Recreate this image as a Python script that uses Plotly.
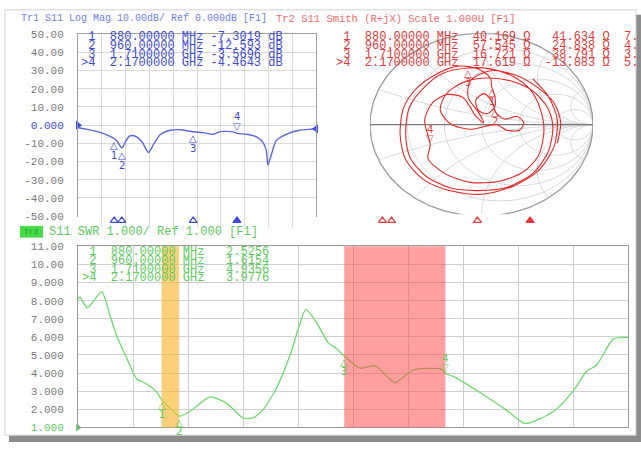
import numpy as np
import plotly.graph_objects as go

W, H = 641, 449

# ------------------------------------------------------------------ data
logmag_freq_mhz = [500, 597, 743, 847, 880, 920, 960, 1000, 1040, 1090, 1170, 1240, 1300,
                   1368, 1472, 1576, 1710, 1818, 1924, 1992, 2130, 2170, 2270, 2374, 2443,
                   2478, 2495, 2530, 2582, 2686, 2825, 2929, 3000]
logmag_db = [-1.4, -2.3, -4.1, -6.4, -7.3, -9.5, -12.6, -9.0, -6.0, -5.8, -9.0, -15.0, -10.0,
             -5.0, -2.8, -2.5, -3.6, -4.1, -5.0, -3.5, -3.7, -4.5, -5.0, -6.4, -9.4,
             -13.8, -21.8, -16.4, -8.5, -5.0, -2.8, -2.3, -1.8]

swr_freq_mhz = [500, 509, 542, 608, 645, 676, 721, 767, 812, 858, 880, 932, 960, 1009, 1100,
                1176, 1251, 1295, 1341, 1403, 1464, 1500, 1536, 1585, 1636, 1676, 1710, 1782,
                1850, 1941, 2023, 2153, 2170, 2205, 2327, 2449, 2532, 2660, 2751, 2812, 2858,
                2933, 3000]
swr_values = [8.1, 8.2, 7.6, 8.5, 7.2, 6.05, 4.84, 3.67, 3.4, 2.95, 2.53, 1.9, 1.62, 1.88, 2.69,
              2.33, 1.52, 1.52, 1.97, 3.19, 5.0, 6.4, 7.52, 6.78, 5.7, 5.35, 4.94, 4.27,
              4.41, 3.47, 4.17, 4.22, 3.98, 3.82, 2.93, 1.94, 1.22, 1.86, 3.02, 4.1, 4.45,
              5.89, 5.97]

smith_gamma_re = [0.46, 0.60, 0.68, 0.65, 0.52, 0.29, 0.00, -0.29, -0.52, -0.68, -0.73, -0.70,
                  -0.59, -0.41, -0.21, -0.03, 0.08, 0.09,
                  0.12, 0.12, 0.05, -0.03, -0.05, 0.02, 0.09, 0.13, 0.21, 0.32, 0.38, 0.34,
                  0.23, 0.14, 0.06,
                  -0.10, -0.28, -0.37, -0.32, -0.17, 0.04, 0.26, 0.46, 0.59, 0.64, 0.60, 0.47,
                  0.24, -0.03, -0.28, -0.50, -0.64, -0.68, -0.65, -0.53, -0.35, -0.12,
                  0.08, 0.28, 0.44, 0.53, 0.56, 0.51, 0.37, 0.15, -0.10, -0.32, -0.48, -0.46,
                  -0.51, -0.44, -0.31, -0.17, -0.10, -0.05, 0.02, -0.03, -0.12, -0.10, 0.08,
                  0.31, 0.51, 0.65, 0.71, 0.68]
smith_gamma_im = [0.50, 0.31, 0.05, -0.24, -0.49, -0.67, -0.76, -0.72, -0.60, -0.38, -0.11, 0.18,
                  0.39, 0.55, 0.64, 0.61, 0.51, 0.42,
                  0.31, 0.20, 0.12, 0.16, 0.27, 0.34, 0.26, 0.13, 0.06, 0.09, 0.02, -0.06,
                  -0.06, 0.00, -0.01,
                  -0.05, 0.01, 0.16, 0.33, 0.46, 0.51, 0.48, 0.37, 0.19, -0.02, -0.29, -0.52,
                  -0.68, -0.72, -0.69, -0.56, -0.36, -0.10, 0.18, 0.39, 0.56, 0.62,
                  0.61, 0.53, 0.38, 0.16, -0.07, -0.34, -0.52, -0.62, -0.63, -0.54, -0.37, -0.22,
                  0.05, 0.24, 0.33, 0.30, 0.19, 0.09, 0.02, 0.14, 0.30, 0.48, 0.59,
                  0.54, 0.40, 0.24, 0.03, -0.20]

marker_ids = ["1", "2", "3", ">4"]
marker_freq_mhz = [880, 960, 1710, 2170]
marker_logmag_db = [-7.3019, -12.593, -3.5696, -4.4643]
marker_swr = [2.5256, 1.6154, 4.9356, 3.9776]
marker_r_ohm = [40.169, 57.545, 16.721, 17.619]
marker_x_ohm = [41.634, 24.838, 38.791, -13.883]
marker_extra = ["7.", "4.", "3.", "5."]
marker_gamma_re = [0.09, 0.12, -0.12, -0.46]
marker_gamma_im = [0.42, 0.20, 0.62, -0.22]

logmag_ticks = [50, 40, 30, 20, 10, 0, -10, -20, -30, -40, -50]
logmag_ticktext = ["50.00", "40.00", "30.00", "20.00", "10.00", "0.000",
                   "-10.00", "-20.00", "-30.00", "-40.00", "-50.00"]
swr_ticks = [11, 10, 9, 8, 7, 6, 5, 4, 3, 2, 1]
swr_ticktext = ["11.00", "10.00", "9.000", "8.000", "7.000", "6.000",
                "5.000", "4.000", "3.000", "2.000", "1.000"]
smith_r_grid = [0.2, 0.5, 1, 2, 5]
smith_x_grid = [0.2, 0.5, 1, 2, 5]

# ------------------------------------------------------------------ styles
BLUE_T = "#3e4bd8"
BLUE_L = "#5a68e0"
RED_T = "#e23a3a"
RED_L = "#e42828"
GREEN_T = "#5ccc5c"
GREEN_L = "#6bdc6b"
GRAY_T = "#7a7a7a"
MONO = "Liberation Mono"
NB = "\u00a0"


def fx(p):
    return p / W


def fy(p):
    return 1 - p / H


def freq_text(f):
    if f < 1000:
        return f"{f:.5f}", "MHz"
    return f"{f/1000:.7f}", "GHz"


def pad(s, n, right=True):
    s = str(s)
    fill = NB * max(0, n - len(s))
    return fill + s if right else s + fill


fig = go.Figure()

# ---- Smith grid
t = np.linspace(0, 2 * np.pi, 241)
gx, gy = [], []
for r in smith_r_grid:
    c = r / (1 + r)
    R = 1 / (1 + r)
    gx += list(c + R * np.cos(t)) + [None]
    gy += list(R * np.sin(t)) + [None]
s = np.linspace(0, np.pi / 2 - 0.002, 300)
rr = np.tan(s)
for xv in smith_x_grid:
    for sign in (1, -1):
        g = (rr + 1j * sign * xv - 1) / (rr + 1j * sign * xv + 1)
        gx += list(g.real) + [None]
        gy += list(g.imag) + [None]
fig.add_trace(go.Scatter(x=gx, y=gy, xaxis="x2", yaxis="y2", mode="lines",
                         line=dict(color="#d2d6d8", width=0.9), hoverinfo="skip"))
fig.add_trace(go.Scatter(x=list(np.cos(t)), y=list(np.sin(t)), xaxis="x2", yaxis="y2",
                         mode="lines", line=dict(color="#9a9a9a", width=1.3), hoverinfo="skip"))
fig.add_trace(go.Scatter(x=[-1, 1], y=[0, 0], xaxis="x2", yaxis="y2", mode="lines",
                         line=dict(color="#7a7a7a", width=1.2), hoverinfo="skip"))
fig.add_trace(go.Scatter(x=smith_gamma_re, y=smith_gamma_im, xaxis="x2", yaxis="y2",
                         mode="lines", line=dict(color=RED_L, width=1.1, shape="spline",
                                                 smoothing=0.8), hoverinfo="skip"))

# ---- Log mag trace
fig.add_trace(go.Scatter(x=logmag_freq_mhz, y=logmag_db, xaxis="x", yaxis="y", mode="lines",
                         line=dict(color=BLUE_L, width=1.4, shape="spline", smoothing=0.7)))
fig.add_trace(go.Scatter(x=[500], y=[0], xaxis="x", yaxis="y", mode="markers",
                         marker=dict(symbol="triangle-right", size=8, color=BLUE_T),
                         cliponaxis=False))
fig.add_trace(go.Scatter(x=[3000], y=[-2], xaxis="x", yaxis="y", mode="markers",
                         marker=dict(symbol="triangle-left", size=8, color=BLUE_T),
                         cliponaxis=False))

# ---- SWR trace
fig.add_trace(go.Scatter(x=swr_freq_mhz, y=swr_values, xaxis="x3", yaxis="y3", mode="lines",
                         line=dict(color=GREEN_L, width=1.3, shape="spline", smoothing=0.6)))
fig.add_trace(go.Scatter(x=[500], y=[1], xaxis="x3", yaxis="y3", mode="markers",
                         marker=dict(symbol="triangle-right", size=7, color=GREEN_T),
                         cliponaxis=False))

# ---- marker strips
syms = ["triangle-up-open"] * 3 + ["triangle-up"]
fig.add_trace(go.Scatter(x=marker_freq_mhz, y=[0.5] * 4, xaxis="x", yaxis="y4", mode="markers",
                         marker=dict(symbol=syms, size=7, color=BLUE_T,
                                     line=dict(width=1.2, color=BLUE_T)), cliponaxis=False))
fig.add_trace(go.Scatter(x=marker_freq_mhz, y=[0.5] * 4, xaxis="x5", yaxis="y5", mode="markers",
                         marker=dict(symbol=syms, size=7, color=RED_T,
                                     line=dict(width=1.2, color=RED_T)), cliponaxis=False))

annotations = []


def ann(text, x, y, color, size=12, xanchor="left", xref="paper", yref="paper",
        yshift=0, xshift=0, family=MONO):
    annotations.append(dict(text=text, x=x, y=y, xref=xref, yref=yref, xanchor=xanchor,
                            yanchor="middle", showarrow=False, yshift=yshift, xshift=xshift,
                            borderpad=0, font=dict(family=family, size=size, color=color)))


# trace marker symbols
def trace_markers(xs, ys, xr, yr, color, up_shift, num_shift):
    for i, (xv, yv) in enumerate(zip(xs, ys)):
        lab = marker_ids[i].replace(">", "")
        if i < 3:
            ann("△", xv, yv, color, 10, "center", xr, yr, yshift=-up_shift, family="DejaVu Sans")
            ann(lab, xv, yv, color, 10, "center", xr, yr, yshift=-num_shift, family="DejaVu Sans")
        else:
            ann("▽", xv, yv, color, 10, "center", xr, yr, yshift=up_shift, family="DejaVu Sans")
            ann(lab, xv, yv, color, 10, "center", xr, yr, yshift=num_shift, family="DejaVu Sans")


trace_markers(marker_freq_mhz, marker_logmag_db, "x", "y", BLUE_T, 7, 17)
trace_markers(marker_freq_mhz, marker_swr, "x3", "y3", GREEN_T, 6, 15)
trace_markers(marker_gamma_re, marker_gamma_im, "x2", "y2", RED_T, 6, 15)

# headers
ann("Tr1 S11 Log Mag 10.00dB/ Ref 0.000dB [F1]", fx(20), fy(14), "#6f7fe6", 10)
ann("Tr2 S11 Smith (R+jX) Scale 1.000U [F1]", fx(275), fy(14), "#ee6b6b", 10.5)
ann("S11 SWR 1.000/ Ref 1.000 [F1]", fx(48), fy(233), GREEN_T, 12)
ann("Tr3", fx(31.5), fy(233), "#2c8f2c", 8, "center")

# marker tables (monospaced rows)
rows_y_top = [33, 42, 51, 60]
rows_y_bot = [254, 263, 272, 281]
for i in range(4):
    ft, un = freq_text(marker_freq_mhz[i])
    mid = pad(marker_ids[i], 2)
    blue_row = f"{mid}{NB*2}{ft}{NB}{un}{NB}{pad(f'{marker_logmag_db[i]:.5g}', 7)}{NB}dB"
    ann(blue_row, fx(80), fy(rows_y_top[i]), BLUE_T, 12)
    red_row = (f"{mid}{NB*2}{ft}{NB}{un}{NB*2}{pad(f'{marker_r_ohm[i]:.5g}', 6)}{NB}Ω"
               f"{NB*2}{pad(f'{marker_x_ohm[i]:.5g}', 7)}{NB}Ω{NB*2}{marker_extra[i]}")
    ann(red_row, fx(335), fy(rows_y_top[i]), RED_T, 12)
    green_row = f"{mid}{NB*2}{ft}{NB}{un}{NB*3}{marker_swr[i]:.5g}"
    ann(green_row, fx(81), fy(rows_y_bot[i]), GREEN_T, 12)

shapes = [
    dict(type="rect", xref="paper", yref="paper", x0=fx(9), x1=fx(641), y0=fy(449), y1=fy(10),
         fillcolor="#8c8c8c", line=dict(width=0), layer="below"),
    dict(type="rect", xref="paper", yref="paper", x0=fx(5), x1=fx(636), y0=fy(442), y1=fy(5),
         fillcolor="white", line=dict(width=1, color="#d0d0d0"), layer="below"),
    dict(type="rect", xref="paper", yref="paper", x0=fx(20), x1=fx(43), y0=fy(239), y1=fy(227),
         fillcolor="#46dc46", line=dict(width=0)),
    dict(type="rect", xref="x3", yref="y3 domain", x0=marker_freq_mhz[0], x1=marker_freq_mhz[1],
         y0=0, y1=1, fillcolor="rgba(247,180,40,0.62)", line=dict(width=0), layer="above"),
    dict(type="rect", xref="x3", yref="y3 domain", x0=marker_freq_mhz[2], x1=marker_freq_mhz[3],
         y0=0, y1=1, fillcolor="rgba(255,70,70,0.52)", line=dict(width=0), layer="above"),
]

logmag_tt = [f"<span style='color:{BLUE_T}'>{s}</span>" if v == 0 else s
             for v, s in zip(logmag_ticks, logmag_ticktext)]
swr_tt = [f"<span style='color:{GREEN_T}'>{s}</span>" if v == 1 else s
          for v, s in zip(swr_ticks, swr_ticktext)]

xcommon = dict(range=[500, 3000], tick0=500, dtick=250, showticklabels=False, ticks="",
               showgrid=True, zeroline=False, showline=True, mirror=True)

fig.update_layout(
    width=W, height=H, margin=dict(l=0, r=0, t=0, b=0),
    paper_bgcolor="white", plot_bgcolor="white", showlegend=False,
    xaxis=dict(domain=[fx(78), fx(316)], anchor="y", gridcolor="#dadada", linecolor="#a0a0a0",
               **xcommon),
    yaxis=dict(domain=[fy(217), fy(30)], anchor="x", range=[-50, 50], tickvals=logmag_ticks,
               ticktext=logmag_tt, ticks="", ticklabelstandoff=11, gridcolor="#dadada",
               showline=True, mirror=True, linecolor="#a0a0a0", zeroline=False,
               tickfont=dict(family=MONO, size=11, color=GRAY_T)),
    xaxis2=dict(domain=[fx(370), fx(593)], anchor="y2", range=[-1, 1], visible=False),
    yaxis2=dict(domain=[fy(217), fy(29)], anchor="x2", range=[-1, 1], visible=False),
    xaxis3=dict(domain=[fx(78), fx(628)], anchor="y3", gridcolor="#cfcfcf", linecolor="#9a9a9a",
                **xcommon),
    yaxis3=dict(domain=[fy(434), fy(248)], anchor="x3", range=[1, 11], tickvals=swr_ticks,
                ticktext=swr_tt, ticks="", ticklabelstandoff=11, gridcolor="#cfcfcf",
                showline=True, mirror=True, linecolor="#9a9a9a", zeroline=False,
                tickfont=dict(family=MONO, size=11, color=GRAY_T)),
    yaxis4=dict(domain=[fy(228), fy(215)], anchor="x", range=[0, 1], visible=False),
    xaxis5=dict(domain=[fx(339), fx(625)], anchor="y5", range=[500, 3000], visible=False),
    yaxis5=dict(domain=[fy(228), fy(215)], anchor="x5", range=[0, 1], visible=False),
    shapes=shapes,
    annotations=annotations,
)

fig.write_html("out.html", config={"displayModeBar": False},
               post_script="document.body.style.margin='0';document.body.style.overflow='hidden';")
